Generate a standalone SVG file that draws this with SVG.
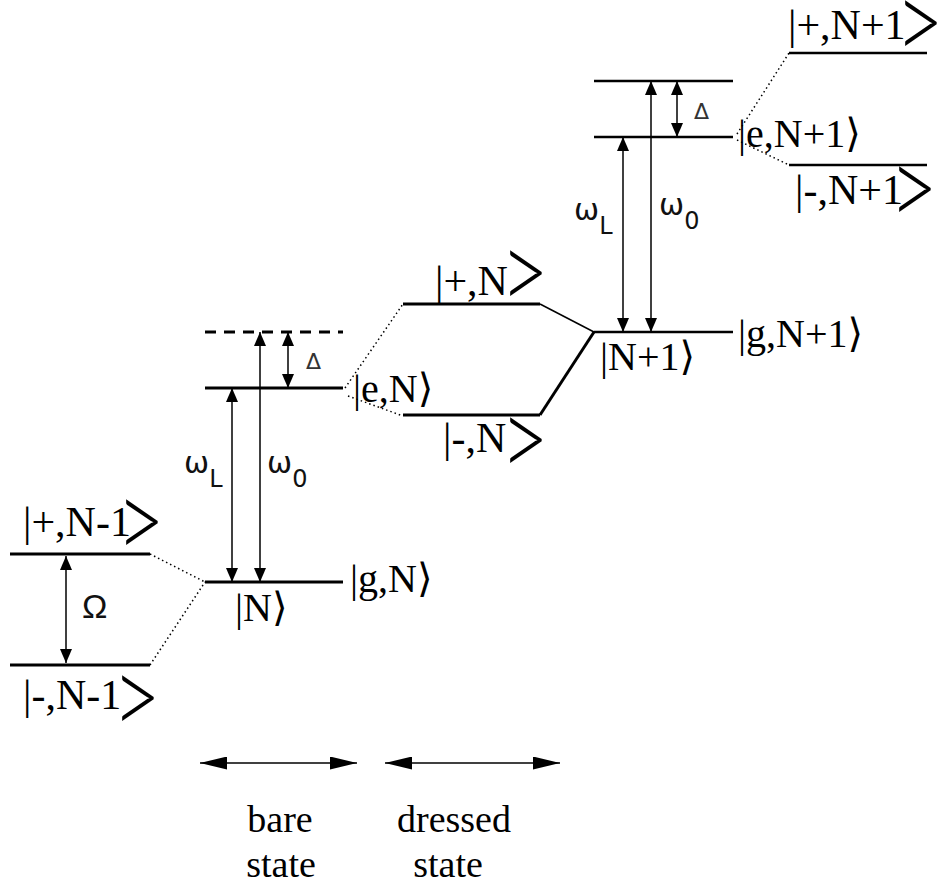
<svg xmlns="http://www.w3.org/2000/svg" width="941" height="885" viewBox="0 0 941 885">
<style>
.lvl{stroke:#000;stroke-width:3;fill:none}
.lvt{stroke:#000;stroke-width:2.5;fill:none}
.arr{stroke:#000;stroke-width:1.5;fill:none;marker-start:url(#ah);marker-end:url(#ah)}
.big{stroke:#000;stroke-width:1.5;fill:none;marker-start:url(#bh);marker-end:url(#bh)}
.dot{stroke:#000;stroke-width:1.5;fill:none;stroke-dasharray:1.5 3}
.ket{font-family:"Liberation Serif","DejaVu Serif",serif;font-size:40px;fill:#000}
.ketd{font-family:"Liberation Serif","DejaVu Serif",serif;font-size:42px;fill:#000}
.br{font-family:"DejaVu Serif",serif}
.chev{font-family:Lato,"Liberation Sans",sans-serif;font-weight:300;font-size:48px;fill:#000}
.om{font-family:"DejaVu Sans","Liberation Sans",sans-serif;font-size:30px;fill:#111}
.sub{font-size:24px}
.bigom{font-family:"Liberation Sans","DejaVu Sans",sans-serif;font-size:34px;fill:#111}
.dl{font-family:"DejaVu Sans","Liberation Sans",sans-serif;font-size:22px;fill:#333}
.cap{font-family:"Liberation Serif",serif;font-size:38px;fill:#000;text-anchor:middle}
</style>
<defs>
<marker id="ah" viewBox="0 0 14 12" refX="14" refY="6" markerWidth="14" markerHeight="12" markerUnits="userSpaceOnUse" orient="auto-start-reverse"><path d="M0,0 L14,6 L0,12 z" fill="#000"/></marker>
<marker id="bh" viewBox="0 0 27 13" refX="27" refY="6.5" markerWidth="27" markerHeight="13" markerUnits="userSpaceOnUse" orient="auto-start-reverse"><path d="M0,0 L27,6.5 L0,13 z" fill="#000"/></marker>
</defs>

<g id="connectors">
<path class="dot" d="M150,554 L205,582"/>
<path class="dot" d="M150,665 L205,582"/>
<path class="dot" d="M345,388 L403,304"/>
<path class="dot" d="M348,396 L403,416"/>
<path d="M540,304 L594,332" stroke="#000" stroke-width="1.5" fill="none"/>
<path d="M540,415 L594,332" stroke="#000" stroke-width="3" fill="none"/>
<path class="dot" d="M737,134 L789,53"/>
<path class="dot" d="M737,140 L789,165"/>
<line class="arr" x1="66" y1="556" x2="66" y2="663"/>
<line class="arr" x1="232" y1="388" x2="232" y2="582"/>
<line class="arr" x1="260" y1="332" x2="260" y2="582"/>
<line class="arr" x1="288" y1="332" x2="288" y2="388"/>
<line class="arr" x1="623" y1="137" x2="623" y2="332"/>
<line class="arr" x1="651" y1="81" x2="651" y2="332"/>
<line class="arr" x1="677" y1="81" x2="677" y2="137"/>
<line class="big" x1="200" y1="763" x2="357" y2="763"/>
<line class="big" x1="385" y1="763" x2="560" y2="763"/>
</g>

<g id="plus-N-1">
<line class="lvl" x1="10" y1="554" x2="150" y2="554"/>
<text class="ketd" x="23" y="536">|+,N-1</text>
<text class="chev" transform="translate(116.2,560.2) scale(1.75,2.36)">&gt;</text>
</g>
<g id="minus-N-1">
<line class="lvl" x1="10" y1="665" x2="150" y2="665"/>
<text class="ketd" x="23" y="709">|-,N-1</text>
<text class="chev" transform="translate(112.2,736.2) scale(1.75,2.36)">&gt;</text>
</g>
<g id="omega-label">
<text class="bigom" x="82" y="618">Ω</text>
</g>

<g id="virtual-N">
<line class="lvl" x1="205" y1="332" x2="343" y2="332" stroke-dasharray="11 8"/>
</g>
<g id="e-N">
<line class="lvl" x1="205" y1="388" x2="343" y2="388"/>
<text class="ket" x="353" y="402">|e,N<tspan class="br">⟩</tspan></text>
</g>
<g id="g-N">
<line class="lvl" x1="205" y1="582" x2="343" y2="582"/>
<text class="ket" x="350" y="592">|g,N<tspan class="br">⟩</tspan></text>
<text class="ket" x="235" y="621">|N<tspan class="br">⟩</tspan></text>
</g>
<g id="labels-N">
<text class="om" x="184" y="473">ω<tspan class="sub" dy="14">L</tspan></text>
<text class="om" x="267" y="473">ω<tspan class="sub" dy="14">0</tspan></text>
<text class="dl" x="306" y="369">Δ</text>
</g>

<g id="plus-N">
<line class="lvl" x1="403" y1="304" x2="540" y2="304"/>
<text class="ketd" x="435" y="295">|+,N</text>
<text class="chev" transform="translate(500.2,311.2) scale(1.75,2.36)">&gt;</text>
</g>
<g id="minus-N">
<line class="lvl" x1="403" y1="415" x2="540" y2="415"/>
<text class="ketd" x="443" y="452">|-,N</text>
<text class="chev" transform="translate(500.2,478.2) scale(1.75,2.36)">&gt;</text>
</g>

<g id="virtual-N1">
<line class="lvt" x1="594" y1="81" x2="733" y2="81"/>
</g>
<g id="e-N1">
<line class="lvt" x1="594" y1="137" x2="733" y2="137"/>
<text class="ket" x="738" y="147">|e,N+1<tspan class="br">⟩</tspan></text>
</g>
<g id="g-N1">
<line class="lvt" x1="594" y1="332" x2="733" y2="332"/>
<text class="ket" x="738" y="347">|g,N+1<tspan class="br">⟩</tspan></text>
<text class="ket" x="600" y="370">|N+1<tspan class="br">⟩</tspan></text>
</g>
<g id="labels-N1">
<text class="om" x="574" y="220">ω<tspan class="sub" dy="14">L</tspan></text>
<text class="om" x="659" y="215">ω<tspan class="sub" dy="14">0</tspan></text>
<text class="dl" x="694" y="119">Δ</text>
</g>

<g id="plus-N1">
<line class="lvt" x1="789" y1="53" x2="927" y2="53"/>
<text class="ketd" x="788" y="39">|+,N+1</text>
<text class="chev" transform="translate(895.2,61.2) scale(1.75,2.36)">&gt;</text>
</g>
<g id="minus-N1">
<line class="lvt" x1="789" y1="165" x2="927" y2="165"/>
<text class="ketd" x="795" y="204">|-,N+1</text>
<text class="chev" transform="translate(889.2,227.2) scale(1.75,2.36)">&gt;</text>
</g>

<g id="captions">
<text class="cap" x="280" y="832">bare</text>
<text class="cap" x="281" y="877">state</text>
<text class="cap" x="454" y="832">dressed</text>
<text class="cap" x="448" y="877">state</text>
</g>
</svg>
